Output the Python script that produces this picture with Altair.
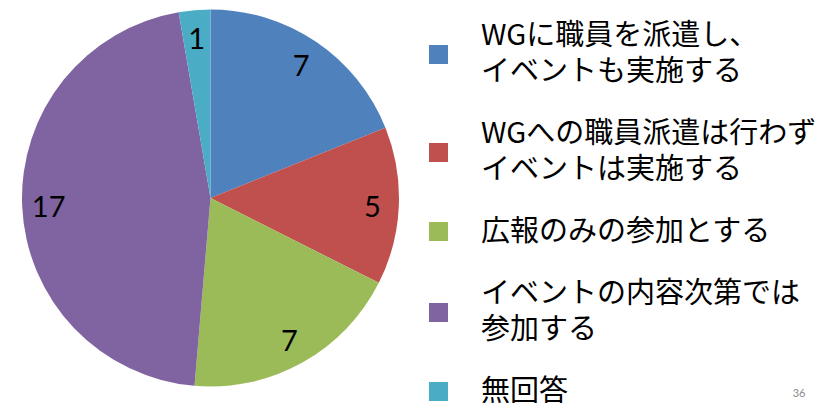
import altair as alt
import pandas as pd

categories = [
    "WGに職員を派遣し、\nイベントも実施する",
    "WGへの職員派遣は行わず\nイベントは実施する",
    "広報のみの参加とする",
    "イベントの内容次第では\n参加する",
    "無回答",
]
values = [7, 5, 7, 17, 1]
colors = ["#4F81BD", "#C0504D", "#9BBB59", "#8064A2", "#4BACC6"]
page_number = ["36"]

df = pd.DataFrame({"category": categories, "value": values, "order": list(range(len(categories)))})

base = alt.Chart(df).encode(
    theta=alt.Theta("value:Q", stack=True),
    order=alt.Order("order:Q"),
)

pie = base.mark_arc(outerRadius=188.5, strokeWidth=0).encode(
    color=alt.Color(
        "category:N",
        sort=categories,
        scale=alt.Scale(domain=categories, range=colors),
        legend=alt.Legend(
            title=None,
            orient="none",
            legendX=416,
            legendY=32,
            padding=0,
            symbolType="square",
            symbolSize=361,
            symbolStrokeWidth=0,
            labelFont="Noto Sans CJK JP",
            labelFontSize=29,
            labelColor="black",
            labelOffset=28,
            labelLimit=420,
            rowPadding=32,
            labelBaseline={"expr": "indexof(datum.value, '\\n') >= 0 ? 'line-bottom' : 'middle'"},
            labelExpr="split(datum.label, '\\n')",
        ),
    )
)

labels = base.mark_text(radius=162, dy=3, font="Lato", fontSize=29, color="black").encode(
    text="value:Q"
)

pnum = alt.Chart(pd.DataFrame({"t": page_number})).mark_text(
    font="Lato", fontSize=11, color="#8c8c8c"
).encode(text="t:N", x=alt.value(791), y=alt.value(386))

chart = alt.layer(pie, labels, pnum).properties(
    width=405, height=380, padding=0
).configure(
    style={"guide-label": {"lineHeight": 36}},
    view=alt.ViewConfig(stroke=None),
)

chart.save("out.html", embed_options={"renderer": "svg", "actions": False})
